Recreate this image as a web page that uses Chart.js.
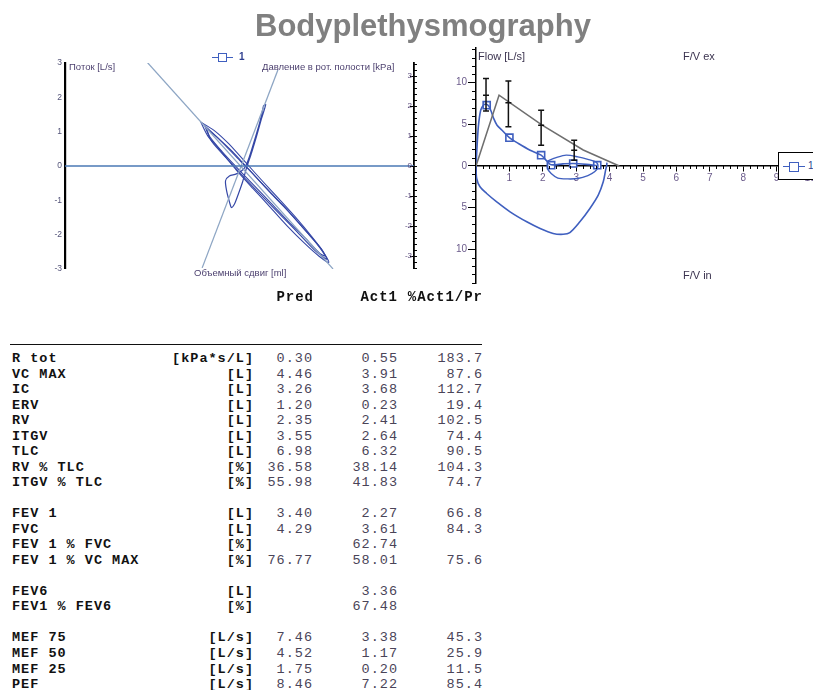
<!DOCTYPE html>
<html><head><meta charset="utf-8">
<script src="https://cdn.jsdelivr.net/npm/chart.js@4.4.1/dist/chart.umd.min.js"></script>
<style>
html,body{margin:0;padding:0;width:813px;height:690px;overflow:hidden;background:#fff;}
body{position:relative;font-family:'Liberation Sans',Arial,sans-serif;}
.abs{position:absolute;white-space:nowrap;}
canvas{position:absolute;}
#title{left:255px;top:10px;font:bold 31px/31px 'Liberation Sans',Arial,sans-serif;color:#808080;}
.l1{font-size:9.5px;line-height:10px;color:#4b3f6e;}
.l2{font-size:11px;line-height:12px;color:#3c3450;}
.tb{font-family:'Liberation Mono','Courier New',monospace;font-size:13.5px;line-height:15.52px;letter-spacing:1px;}
.lab{font-weight:bold;color:#111;}
.num{color:#4a4458;}
.hd{font-weight:bold;color:#111;font-size:14px;}
</style></head>
<body>
<canvas id="c1" width="430" height="222" style="left:0;top:55px"></canvas>
<canvas id="c2" width="390" height="255" style="left:430px;top:40px"></canvas>
<div id="title" class="abs">Bodyplethysmography</div>
<div class="abs l1" style="left:69px;top:62px">Поток [L/s]</div>
<div class="abs l1" style="left:262px;top:62px">Давление в рот. полости [kPa]</div>
<div class="abs l1" style="left:194px;top:268px">Объемный сдвиг [ml]</div>
<div class="abs l2" style="left:478px;top:50px">Flow [L/s]</div>
<div class="abs l2" style="left:683px;top:50px">F/V ex</div>
<div class="abs l2" style="left:683px;top:269px">F/V in</div>
<!-- legend of left chart -->
<div class="abs" style="left:212px;top:56.5px;width:21px;height:1.5px;background:#3f5fbf"></div>
<div class="abs" style="left:218px;top:53px;width:9px;height:9px;border:1.5px solid #3f5fbf;background:#fff;box-sizing:border-box"></div>
<div class="abs" style="left:239px;top:51px;font:bold 10px/12px 'Liberation Sans',Arial;color:#2f3f8f">1</div>
<!-- legend of right chart -->
<div class="abs" style="left:778px;top:152px;width:60px;height:28px;border:1.5px solid #000;background:#fff;box-sizing:border-box"></div>
<div class="abs" style="left:783px;top:165.5px;width:22px;height:1.5px;background:#3f5fbf"></div>
<div class="abs" style="left:789px;top:161.5px;width:10px;height:10px;border:1.5px solid #3f5fbf;background:#fff;box-sizing:border-box"></div>
<div class="abs" style="left:808px;top:160px;font:10px/12px 'Liberation Sans',Arial;color:#2f3f8f">1</div>
<div class="abs" style="left:10px;top:343.5px;width:472px;height:1.6px;background:#111"></div>
<script>
// ---------- Left chart (pressure/flow loops) ----------
const potTicks = [-3,-2,-1,0,1,2,3];
const y2Ticks = [-3,-2,-1,0,1,2,3];
const hLineX = [-5, 5];
const hLineY = [0, 0];
const diag1X = [-2.65, 2.68];
const diag1Y = [3.03, -3.0];
const diag2X = [1.10, -1.07];
const diag2Y = [2.80, -2.97];
const loopAX = [-1.11,-0.73,-0.31,0.17,0.65,1.13,1.61,2.07,2.41,2.56,2.28,1.86,1.35,0.87,0.39,-0.09,-0.54,-0.91,-1.11];
const loopAY = [1.28,1.04,0.65,0.11,-0.43,-0.96,-1.50,-2.06,-2.52,-2.81,-2.63,-2.25,-1.73,-1.19,-0.66,-0.12,0.44,0.88,1.28];
const loopBX = [-0.95,-0.60,-0.20,0.25,0.75,1.25,1.75,2.20,2.45,2.30,1.90,1.40,0.90,0.40,-0.10,-0.50,-0.85,-0.95];
const loopBY = [1.10,0.80,0.42,-0.08,-0.62,-1.15,-1.72,-2.25,-2.62,-2.55,-2.12,-1.62,-1.08,-0.55,-0.02,0.42,0.85,1.10];
const loopDX = [-1.0,-0.55,-0.05,0.45,0.95,1.45,1.95,2.35,2.5,2.15,1.65,1.15,0.65,0.15,-0.35,-0.8,-1.0];
const loopDY = [1.18,0.75,0.22,-0.30,-0.85,-1.38,-1.95,-2.42,-2.72,-2.45,-1.92,-1.40,-0.88,-0.35,0.20,0.72,1.18];
const loopCX = [0.69,0.58,0.43,0.29,0.14,-0.09,-0.29,-0.40,-0.37,-0.29,-0.23,-0.14,-0.03,0.09,0.20,0.35,0.49,0.63,0.75,0.69];
const loopCY = [1.76,1.27,0.75,0.29,-0.06,-0.23,-0.29,-0.43,-0.72,-1.04,-1.21,-1.10,-0.81,-0.46,-0.06,0.40,0.87,1.38,1.79,1.76];

// ---------- Right chart (flow/volume) ----------
const volTicks = [0,1,2,3,4,5,6,7,8,9,10];
const flowTicks = [-10,-5,0,5,10];
const predX = [0, 0.69, 1.98, 3.21, 4.29];
const predY = [0, 8.5, 4.9, 1.92, 0];
const expX = [0,0.02,0.07,0.14,0.22,0.30,0.38,0.45,0.53,0.63,0.78,1.0,1.27,1.62,1.95,2.12,2.25,2.6,2.91,3.3,3.63];
const expY = [0,1.5,4.7,6.7,7.3,7.45,7.2,6.6,5.7,4.9,4.3,3.4,2.7,1.9,1.3,0.6,0.15,0.25,0.3,0.2,0.05];
const inX = [0,0.02,0.12,0.32,0.62,1.02,1.52,1.92,2.31,2.61,2.81,3.11,3.41,3.66,3.81,3.88,3.91,3.92];
const inY = [0,-1.5,-2.5,-3.3,-4.3,-5.5,-6.7,-7.5,-8.1,-8.2,-8.0,-6.7,-5.1,-3.5,-1.9,-0.5,0,0.4];
const tidX = [2.14,2.14,2.25,2.45,2.75,3.05,3.35,3.55,3.65,3.6,3.35,3.05,2.7,2.4,2.14];
const tidY = [0.6,-0.3,-0.9,-1.45,-1.55,-1.5,-1.15,-0.7,-0.1,0.45,0.8,1.1,1.3,1.0,0.6];
const markX = [0.32, 1.0, 1.95, 2.25, 2.91, 3.63];
const markY = [7.3, 3.4, 1.3, 0.1, 0.3, 0.1];
const errX = [0.30, 0.97, 1.95, 2.94];
const errLow = [6.6, 4.7, 2.5, 0.7];
const errMid = [8.5, 7.6, 4.9, 1.9];
const errHigh = [10.5, 10.2, 6.7, 3.1];

// ---------- Table ----------
const rowLabels = ['R tot','VC MAX','IC','ERV','RV','ITGV','TLC','RV % TLC','ITGV % TLC','','FEV 1','FVC','FEV 1 % FVC','FEV 1 % VC MAX','','FEV6','FEV1 % FEV6','','MEF 75','MEF 50','MEF 25','PEF'];
const rowUnits = ['[kPa*s/L]','[L]','[L]','[L]','[L]','[L]','[L]','[%]','[%]','','[L]','[L]','[%]','[%]','','[L]','[%]','','[L/s]','[L/s]','[L/s]','[L/s]'];
const predVals = ['0.30','4.46','3.26','1.20','2.35','3.55','6.98','36.58','55.98','','3.40','4.29','','76.77','','','','','7.46','4.52','1.75','8.46'];
const actVals = ['0.55','3.91','3.68','0.23','2.41','2.64','6.32','38.14','41.83','','2.27','3.61','62.74','58.01','','3.36','67.48','','3.38','1.17','0.20','7.22'];
const pctVals = ['183.7','87.6','112.7','19.4','102.5','74.4','90.5','104.3','74.7','','66.8','84.3','','75.6','','','','','45.3','25.9','11.5','85.4'];
const headers = ['Pred','Act1','%Act1/Pr'];

const zip = (xs, ys) => xs.map((x, i) => ({x, y: ys[i]}));
const BLUE = '#3f5fbf';
const LOOP = '#3547a6';

const rightAxisPlugin = {
  id: 'rightAxis',
  afterDraw(chart) {
    const s = chart.scales.y2, ctx = chart.ctx, x = s.left;
    ctx.save();
    ctx.strokeStyle = '#000'; ctx.lineWidth = 1;
    ctx.beginPath();
    for (let k = -17; k <= 17; k++) {
      const y = Math.round(s.getPixelForValue(k / 5)) + 0.5;
      const major = k % 5 === 0;
      ctx.moveTo(x - (major ? 4 : 1), y); ctx.lineTo(x + 3, y);
    }
    ctx.stroke();
    ctx.fillStyle = '#5b4a7c'; ctx.font = '8px "Liberation Sans", Arial';
    ctx.textAlign = 'right'; ctx.textBaseline = 'middle';
    y2Ticks.forEach(v => ctx.fillText(String(v), x - 2, s.getPixelForValue(v)));
    ctx.restore();
  }
};

new Chart(document.getElementById('c1'), {
  type: 'scatter',
  data: { datasets: [
    {data: zip(hLineX, hLineY), borderColor: '#4a78b4', borderWidth: 1.5, showLine: true, pointRadius: 0},
    {data: zip(diag1X, diag1Y), borderColor: '#8ea6c4', borderWidth: 1.3, showLine: true, pointRadius: 0},
    {data: zip(diag2X, diag2Y), borderColor: '#8ea6c4', borderWidth: 1.3, showLine: true, pointRadius: 0},
    {data: zip(loopAX, loopAY), borderColor: LOOP, borderWidth: 1.1, showLine: true, pointRadius: 0, tension: 0.25},
    {data: zip(loopBX, loopBY), borderColor: LOOP, borderWidth: 1.1, showLine: true, pointRadius: 0, tension: 0.25},
    {data: zip(loopDX, loopDY), borderColor: LOOP, borderWidth: 1.1, showLine: true, pointRadius: 0, tension: 0.25},
    {data: zip(loopCX, loopCY), borderColor: LOOP, borderWidth: 1.2, showLine: true, pointRadius: 0, tension: 0.25}
  ]},
  options: {
    responsive: false, animation: false,
    layout: {padding: {top: 8, bottom: 8, left: 0, right: 0}},
    plugins: {legend: {display: false}, tooltip: {enabled: false}},
    scales: {
      x: {type: 'linear', display: false, min: -5, max: 5},
      y: {position: 'left', min: -3, max: 3,
          afterBuildTicks: s => { s.ticks = potTicks.map(v => ({value: v})); },
          ticks: {color: '#55557a', font: {size: 8.5, family: 'Liberation Sans'}, padding: 3},
          grid: {display: false, drawTicks: false},
          border: {display: true, color: '#000', width: 2.2},
          afterFit: s => { s.width = 65; }},
      y2: {position: 'right', min: -3.43, max: 3.43,
          ticks: {display: false},
          grid: {display: false, drawTicks: false},
          border: {display: true, color: '#000', width: 1.8},
          afterFit: s => { s.width = 16; }}
    }
  },
  plugins: [rightAxisPlugin]
});

const fvPlugin = {
  id: 'fvDecor',
  afterDatasetsDraw(chart) {
    const ctx = chart.ctx, xs = chart.scales.x, ys = chart.scales.y;
    const y0 = ys.getPixelForValue(0), x0 = chart.chartArea.left;
    ctx.save();
    ctx.strokeStyle = '#000'; ctx.lineWidth = 1;
    ctx.beginPath();
    for (let k = 1; k < 50; k++) {
      if (k % 5 === 0) continue;
      const x = Math.round(xs.getPixelForValue(k / 5)) + 0.5;
      ctx.moveTo(x, y0); ctx.lineTo(x, y0 + 3);
    }
    for (let k = -14; k <= 14; k++) {
      if (k % 5 === 0) continue;
      const y = Math.round(ys.getPixelForValue(k)) + 0.5;
      ctx.moveTo(x0 - 4, y); ctx.lineTo(x0, y);
    }
    ctx.stroke();
    // error bars
    ctx.strokeStyle = '#111'; ctx.lineWidth = 1.5;
    ctx.beginPath();
    errX.forEach((v, i) => {
      const x = xs.getPixelForValue(v);
      const yl = ys.getPixelForValue(errLow[i]), yh = ys.getPixelForValue(errHigh[i]), ym = ys.getPixelForValue(errMid[i]);
      ctx.moveTo(x, yl); ctx.lineTo(x, yh);
      ctx.moveTo(x - 3, yl); ctx.lineTo(x + 3, yl);
      ctx.moveTo(x - 3, yh); ctx.lineTo(x + 3, yh);
      ctx.moveTo(x - 3, ym); ctx.lineTo(x + 3, ym);
    });
    ctx.stroke();
    ctx.restore();
  }
};

new Chart(document.getElementById('c2'), {
  type: 'scatter',
  data: { datasets: [
    {data: zip(predX, predY), borderColor: '#6e6e6e', borderWidth: 1.5, showLine: true, pointRadius: 0},
    {data: zip(expX, expY), borderColor: BLUE, borderWidth: 1.6, showLine: true, pointRadius: 0, tension: 0.3},
    {data: zip(inX, inY), borderColor: BLUE, borderWidth: 1.6, showLine: true, pointRadius: 0, tension: 0.3},
    {data: zip(tidX, tidY), borderColor: BLUE, borderWidth: 1.4, showLine: true, pointRadius: 0, tension: 0.3},
    {data: zip(markX, markY), showLine: false, pointStyle: 'rect', pointRadius: 5,
     pointBorderColor: BLUE, pointBackgroundColor: '#fff', pointBorderWidth: 1.6}
  ]},
  options: {
    responsive: false, animation: false,
    layout: {padding: {top: 8, bottom: 12, left: 0, right: 10}},
    plugins: {legend: {display: false}, tooltip: {enabled: false}},
    scales: {
      x: {type: 'linear', position: {y: 0}, min: 0, max: 10,
          afterBuildTicks: s => { s.ticks = volTicks.map(v => ({value: v})); },
          ticks: {callback: v => v === 0 ? '' : String(v), color: '#6b5b8b', font: {size: 10, family: 'Liberation Sans'}, padding: 1, maxRotation: 0, autoSkip: false},
          grid: {display: true, drawOnChartArea: false, drawTicks: true, tickLength: 5, color: '#000', lineWidth: 1},
          border: {display: true, color: '#000', width: 1.5}},
      y: {position: 'left', min: -14.05, max: 14.17,
          afterBuildTicks: s => { s.ticks = flowTicks.map(v => ({value: v})); },
          ticks: {callback: v => String(Math.abs(v)), color: '#6b5b8b', font: {size: 10, family: 'Liberation Sans'}, padding: 1},
          grid: {display: true, drawOnChartArea: false, drawTicks: true, tickLength: 8, color: '#000', lineWidth: 1},
          border: {display: true, color: '#000', width: 1.5},
          afterFit: s => { s.width = 46; }}
    }
  },
  plugins: [fvPlugin]
});

// table
function cell(text, pos, top, cls, alignRight) {
  if (!text) return;
  const d = document.createElement('div');
  d.className = 'abs tb ' + cls;
  d.textContent = text;
  if (alignRight) d.style.right = (813 - pos - 1) + 'px'; else d.style.left = pos + 'px';
  d.style.top = top + 'px';
  document.body.appendChild(d);
}
const hTop = 290;
cell(headers[0], 313, hTop, 'hd', true);
cell(headers[1], 397, hTop, 'hd', true);
cell(headers[2], 482, hTop, 'hd', true);
rowLabels.forEach((lab, i) => {
  const top = 351.1 + i * 15.52;
  cell(lab, 12, top, 'lab', false);
  cell(rowUnits[i], 253, top, 'lab', true);
  cell(predVals[i], 312, top, 'num', true);
  cell(actVals[i], 397, top, 'num', true);
  cell(pctVals[i], 482, top, 'num', true);
});
</script>
</body></html>
